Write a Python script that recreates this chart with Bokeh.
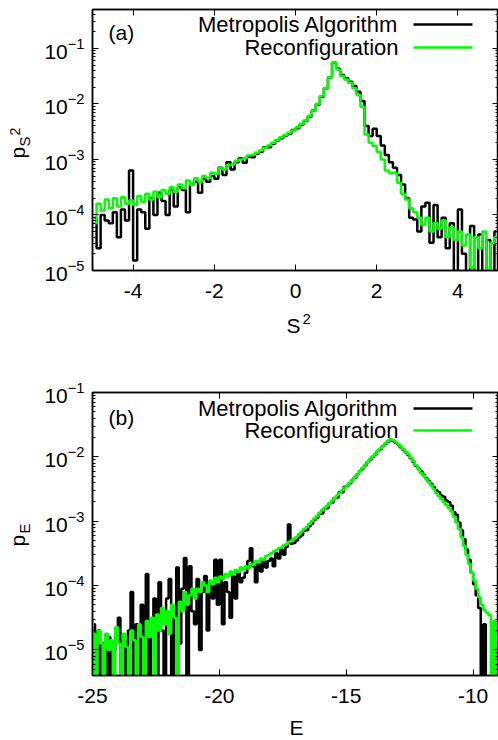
import numpy as np
from bokeh.plotting import figure
from bokeh.layouts import column, row
from bokeh.models import Range1d, LinearAxis, LogAxis, Label, Arrow, FixedTicker
from bokeh.embed import file_html
from bokeh.resources import INLINE

FONT = "Liberation Sans"
BLACK = "#000000"
GREEN = "#00ff00"

series_names = ["Metropolis Algorithm", "Reconfiguration"]

# ---------------- panel (a): distribution of S^2, bins of width 0.1 from -5 to 5 ----------------
s2_bin_start, s2_bin_width, s2_nbins = -5.0, 0.1, 100
s2_xticks = [-4, -2, 0, 2, 4]
s2_yticks = [1e-5, 1e-4, 1e-3, 1e-2, 1e-1]

# log10 of p_{S^2}
s2_metro_log10 = [
    -4.05, -4.60, -4.00, -4.10, -4.15, -3.95, -4.40, -3.90, -4.10, -3.20,
    -4.82, -3.90, -3.95, -4.25, -3.70, -4.00, -3.60, -3.75, -4.00, -3.55,
    -3.85, -3.50, -3.55, -3.95, -3.45, -3.40, -3.60, -3.35, -3.40, -3.30,
    -3.35, -3.15, -3.28, -3.05, -3.18, -3.05, -2.98, -3.06, -2.95, -2.96,
    -2.90, -2.86, -2.78, -2.78, -2.72, -2.66, -2.62, -2.57, -2.54, -2.47,
    -2.44, -2.37, -2.31, -2.23, -2.12, -2.01, -1.87, -1.72, -1.52, -1.26,
    -1.37, -1.48, -1.54, -1.60, -1.68, -1.78, -1.95, -2.40, -2.58, -2.45,
    -2.58, -2.75, -2.92, -3.05, -3.15, -3.28, -3.45, -3.70, -4.05, -4.08,
    -4.30, -3.85, -3.78, -4.50, -3.82, -4.40, -4.05, -4.60, -4.15, -5.10,
    -3.90, -4.70, -5.10, -4.20, -5.10, -4.35, -5.10, -4.45, -5.10, -4.30,
]
s2_reconf_log10 = [
    -4.15, -3.80, -3.92, -3.72, -3.88, -3.70, -3.85, -3.68, -3.80, -3.74,
    -3.82, -3.66, -3.76, -3.62, -3.72, -3.58, -3.68, -3.55, -3.62, -3.50,
    -3.58, -3.45, -3.52, -3.38, -3.46, -3.34, -3.40, -3.30, -3.34, -3.24,
    -3.26, -3.16, -3.18, -3.10, -3.09, -3.03, -3.00, -2.98, -2.93, -2.92,
    -2.88, -2.84, -2.79, -2.75, -2.70, -2.65, -2.60, -2.56, -2.52, -2.48,
    -2.42, -2.36, -2.30, -2.22, -2.12, -2.00, -1.86, -1.72, -1.52, -1.25,
    -1.38, -1.50, -1.56, -1.62, -1.72, -1.84, -2.05, -2.55, -2.70, -2.76,
    -2.86, -3.00, -3.20, -3.25, -3.24, -3.42, -3.62, -3.72, -3.88, -3.95,
    -4.05, -4.18, -4.05, -4.30, -4.15, -4.25, -4.10, -4.40, -4.22, -4.45,
    -4.30, -4.55, -4.35, -4.95, -4.40, -4.60, -4.30, -4.98, -4.50, -4.40,
]

# ---------------- panel (b): distribution of E, bins of width 0.1 from -25 to -9 ----------------
e_bin_start, e_bin_width, e_nbins = -25.0, 0.1, 160
e_xticks = [-25, -20, -15, -10]
e_yticks = [1e-5, 1e-4, 1e-3, 1e-2, 1e-1]

# log10 of p_E
e_metro_log10 = [
    -4.60, -5.50, -4.70, -5.50, -4.90, -5.50, -4.80, -5.50, -5.00, -4.75,
    -4.50, -5.50, -4.85, -5.50, -4.70, -4.10, -5.50, -4.60, -5.50, -4.30,
    -5.50, -3.82, -5.50, -4.60, -4.20, -5.50, -3.95, -4.70, -5.50, -4.20,
    -3.90, -5.50, -4.50, -3.72, -4.90, -4.05, -3.57, -5.50, -3.70, -4.40,
    -4.60, -3.90, -5.00, -4.10, -3.85, -4.70, -3.95, -4.20, -3.60, -4.30,
    -3.60, -4.60, -3.95, -4.10, -4.50, -3.85, -4.20, -3.80, -3.95, -3.88,
    -3.80, -3.62, -3.42, -3.70, -3.95, -3.66, -3.78, -3.60, -3.72, -3.62,
    -3.58, -3.70, -3.50, -3.58, -3.44, -3.52, -3.40, -3.05, -3.35, -3.34,
    -3.30, -3.25, -3.22, -3.15, -3.14, -3.08, -3.04, -2.98, -2.95, -2.88,
    -2.88, -2.80, -2.80, -2.72, -2.71, -2.64, -2.63, -2.55, -2.55, -2.47,
    -2.45, -2.41, -2.36, -2.32, -2.27, -2.22, -2.18, -2.13, -2.08, -2.04,
    -2.00, -1.96, -1.91, -1.88, -1.83, -1.80, -1.76, -1.73, -1.75, -1.78,
    -1.81, -1.85, -1.89, -1.93, -1.97, -2.02, -2.08, -2.14, -2.18, -2.22,
    -2.28, -2.33, -2.37, -2.42, -2.47, -2.52, -2.55, -2.60, -2.62, -2.68,
    -2.70, -2.76, -2.86, -2.90, -3.02, -3.14, -3.28, -3.44, -3.60, -3.80,
    -3.98, -4.15, -4.35, -5.50, -4.60, -5.50, -5.50, -5.50, -5.50, -5.50,
]
e_reconf_log10 = [
    -4.75, -5.50, -4.70, -4.90, -5.50, -4.75, -5.00, -4.85, -5.50, -4.65,
    -4.90, -5.50, -4.75, -4.95, -5.50, -4.70, -4.85, -5.50, -4.60, -4.80,
    -5.50, -4.55, -4.80, -4.50, -5.50, -4.45, -4.70, -4.35, -4.60, -4.40,
    -4.75, -4.30, -4.50, -5.50, -4.25, -4.40, -4.10, -4.30, -4.15, -4.05,
    -4.20, -4.05, -4.10, -3.95, -4.00, -4.10, -3.92, -3.98, -3.88, -3.95,
    -3.86, -3.90, -3.82, -3.86, -3.78, -3.83, -3.76, -3.79, -3.72, -3.75,
    -3.70, -3.73, -3.66, -3.68, -3.62, -3.64, -3.58, -3.60, -3.54, -3.53,
    -3.50, -3.47, -3.45, -3.42, -3.41, -3.37, -3.36, -3.32, -3.30, -3.27,
    -3.24, -3.20, -3.16, -3.12, -3.09, -3.04, -3.00, -2.96, -2.92, -2.87,
    -2.83, -2.79, -2.76, -2.72, -2.68, -2.64, -2.60, -2.56, -2.52, -2.48,
    -2.44, -2.40, -2.36, -2.31, -2.27, -2.22, -2.17, -2.12, -2.08, -2.03,
    -1.99, -1.95, -1.91, -1.87, -1.83, -1.79, -1.75, -1.73, -1.74, -1.77,
    -1.80, -1.84, -1.88, -1.92, -1.96, -2.01, -2.07, -2.13, -2.19, -2.25,
    -2.29, -2.34, -2.39, -2.44, -2.50, -2.56, -2.61, -2.66, -2.70, -2.75,
    -2.80, -2.85, -2.93, -3.02, -3.12, -3.25, -3.38, -3.52, -3.66, -3.80,
    -3.92, -4.05, -4.18, -4.30, -4.38, -4.42, -4.46, -5.50, -4.55, -5.50,
]

LEFT_STRIP = 40      # width of the strip holding the rotated y titles
BORDER_LEFT = 52     # room for the y tick labels
MAIN_W = 498 - LEFT_STRIP


def centers(start, width, n):
    return np.round(start + width * (np.arange(n) + 0.5), 3)


def minor_log_ticks(lo_exp, hi_exp):
    return [m * 10.0 ** e for e in range(lo_exp, hi_exp) for m in range(2, 10)]


def style_axis(ax, ticker, labels=True, minor_in=0, standoff=10, overrides=None):
    ax.ticker = ticker
    ax.axis_line_color = BLACK
    ax.axis_line_width = 1.5
    ax.major_tick_line_color = BLACK
    ax.minor_tick_line_color = BLACK
    ax.major_tick_in = 6
    ax.major_tick_out = 0
    ax.minor_tick_in = minor_in
    ax.minor_tick_out = 0
    if labels:
        ax.major_label_text_font = FONT
        ax.major_label_text_font_size = "21px"
        ax.major_label_text_color = BLACK
        ax.major_label_standoff = standoff
        if overrides:
            ax.major_label_overrides = overrides
    else:
        ax.major_label_text_font_size = "1px"
        ax.major_label_text_color = None
        ax.major_label_standoff = 0


def add_text(p, x, y, text, size="21px", align="left", angle=0.0):
    # y (or x for rotated text) is the vertical middle of the text
    p.add_layout(Label(x=x, y=y, x_units="screen", y_units="screen", text=text,
                       text_font=FONT, text_font_size=size, text_color=BLACK,
                       text_align=align, text_baseline="middle", angle=angle))


def add_legend(p, y_row1, y_row2):
    for name, color, yc in ((series_names[0], BLACK, y_row1), (series_names[1], GREEN, y_row2)):
        add_text(p, 306, yc, name, size="22px", align="right")
        p.add_layout(Arrow(end=None, x_start=321, y_start=yc, x_end=380, y_end=yc,
                           start_units="screen", end_units="screen",
                           line_color=color, line_width=2.5))


def make_panel(height, x_range, y_range, bt, bb, xticks, yticks, minor_range):
    p = figure(width=MAIN_W, height=height, x_range=Range1d(*x_range), y_range=Range1d(*y_range),
               y_axis_type="log", output_backend="svg", toolbar_location=None,
               min_border_left=BORDER_LEFT, min_border_right=0, min_border_top=bt, min_border_bottom=bb,
               background_fill_color="white", border_fill_color="white")
    p.grid.visible = False
    p.outline_line_color = BLACK
    p.outline_line_width = 1.5
    style_axis(p.xaxis[0], FixedTicker(ticks=xticks, minor_ticks=[]), True, 0, standoff=13,
               overrides={t: str(t) for t in xticks})
    style_axis(p.yaxis[0], FixedTicker(ticks=yticks, minor_ticks=minor_log_ticks(*minor_range)),
               True, 3, standoff=8)
    top = LinearAxis()
    style_axis(top, FixedTicker(ticks=xticks, minor_ticks=[]), False, 0)
    p.add_layout(top, "above")
    right = LogAxis()
    style_axis(right, FixedTicker(ticks=yticks, minor_ticks=minor_log_ticks(*minor_range)), False, 3)
    p.add_layout(right, "right")
    return p


def text_strip(width, height, left=0):
    s = figure(width=width, height=height, x_range=Range1d(0, 1), y_range=Range1d(0, 1),
               x_axis_type=None, y_axis_type=None, output_backend="svg", toolbar_location=None,
               min_border=0, min_border_left=left, outline_line_color=None,
               background_fill_color="white", border_fill_color="white")
    s.grid.visible = False
    return s


ang = np.pi / 2

# ---- panel (a)
pa = make_panel(300, (-5, 5), (1e-5, 0.5), 9, 29, s2_xticks, s2_yticks, (-6, 0))
xa = centers(s2_bin_start, s2_bin_width, s2_nbins)
pa.step(xa, [10.0 ** v for v in s2_metro_log10], mode="center", line_color=BLACK, line_width=2.5)
pa.step(xa, [10.0 ** v for v in s2_reconf_log10], mode="center", line_color=GREEN, line_width=2.5)
add_legend(pa, 246, 223)
add_text(pa, 16, 238, "(a)")

# ---- panel (b)
pb = make_panel(350, (-25, -9), (4e-6, 0.1), 32, 35, e_xticks, e_yticks, (-6, -1))
xb = centers(e_bin_start, e_bin_width, e_nbins)
pb.step(xb, [10.0 ** v for v in e_metro_log10], mode="center", line_color=BLACK, line_width=2.5)
pb.step(xb, [10.0 ** v for v in e_reconf_log10], mode="center", line_color=GREEN, line_width=2.5)
add_legend(pb, 267, 245)
add_text(pb, 16, 258, "(b)")

# ---- axis titles (drawn in strips around the panels; x measured from the panel frame's left edge)
xlab_a = text_strip(MAIN_W, 60, BORDER_LEFT)
add_text(xlab_a, 194, 35.5, "S")
add_text(xlab_a, 210, 41.5, "2", size="15px")

xlab_b = text_strip(MAIN_W, 30, BORDER_LEFT)
add_text(xlab_b, 204, 13, "E", align="center")

ylab = text_strip(LEFT_STRIP, 740)
add_text(ylab, 16.6, 582, "p", angle=ang)
add_text(ylab, 23.7, 594, "S", size="15px", angle=ang)
add_text(ylab, 14, 605, "2", size="14px", angle=ang)
add_text(ylab, 16.6, 194, "p", angle=ang)
add_text(ylab, 23.7, 207, "E", size="15px", angle=ang)

layout = row(ylab, column(pa, xlab_a, pb, xlab_b, spacing=0), spacing=0)
open("out.html", "w").write(file_html(layout, INLINE))
